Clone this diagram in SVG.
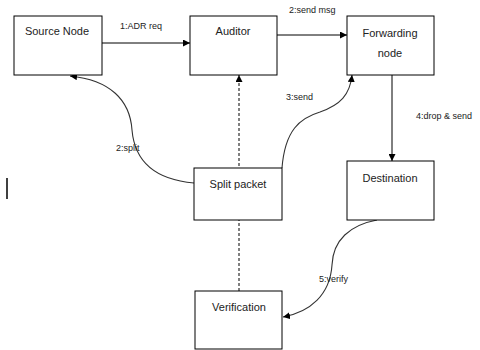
<svg xmlns="http://www.w3.org/2000/svg" width="480" height="350" viewBox="0 0 480 350">
<defs>
<marker id="ah" viewBox="0 0 10 10" refX="10" refY="5" markerWidth="7" markerHeight="7" markerUnits="userSpaceOnUse" orient="auto">
<path d="M0,0 L10,5 L0,10 z" fill="#000"/>
</marker>
<style>
.box{fill:#fff;stroke:#000;stroke-width:1}
.t{font-family:"Liberation Sans",Arial,sans-serif;font-size:11px;fill:#222;text-anchor:middle}
.l{font-family:"Liberation Sans",Arial,sans-serif;font-size:9px;fill:#222}
.c{fill:none;stroke:#000;stroke-width:1;marker-end:url(#ah)}
.cv{fill:none;stroke:#333;stroke-width:1.1;marker-end:url(#ah)}
</style>
</defs>
<rect width="480" height="350" fill="#fff"/>
<g id="connectors">
<line class="c" x1="102" y1="43" x2="190" y2="43"/>
<line class="c" x1="277" y1="35" x2="347" y2="35"/>
<line class="c" x1="392" y1="75" x2="392" y2="161"/>
<line class="c" x1="239" y1="291" x2="239" y2="75" stroke-dasharray="3,2"/>
<path class="cv" d="M194,183 C160,180 135,165 132,130 C130,100 110,80 70,76"/>
<path class="cv" d="M282,168 C285,130 300,118 320,112 C340,105 350,95 352,75"/>
<path class="cv" d="M377,220 C350,225 333,240 332,265 C330,295 310,312 283,317"/>
<text class="l" x="120" y="29">1:ADR req</text>
<text class="l" x="289" y="13">2:send msg</text>
<text class="l" x="416" y="119">4:drop &amp; send</text>
<text class="l" x="116" y="151">2:split</text>
<text class="l" x="286" y="100">3:send</text>
<text class="l" x="319" y="282">5:verify</text>
</g>
<g id="source-node"><rect class="box" x="14" y="16" width="88" height="59"/><text class="t" x="57" y="35">Source Node</text></g>
<g id="auditor"><rect class="box" x="190" y="16" width="87" height="59"/><text class="t" x="233" y="35">Auditor</text></g>
<g id="forwarding-node"><rect class="box" x="347" y="16" width="87" height="59"/><text class="t" x="390" y="37">Forwarding</text><text class="t" x="390" y="57">node</text></g>
<g id="split-packet"><rect class="box" x="194" y="168" width="88" height="52"/><text class="t" x="238" y="188">Split packet</text></g>
<g id="destination"><rect class="box" x="347" y="161" width="87" height="59"/><text class="t" x="390" y="182">Destination</text></g>
<g id="verification"><rect class="box" x="195" y="291" width="87" height="58"/><text class="t" x="239" y="311">Verification</text></g>
<line x1="7" y1="178" x2="7" y2="199" stroke="#000" stroke-width="1.5"/>
</svg>
